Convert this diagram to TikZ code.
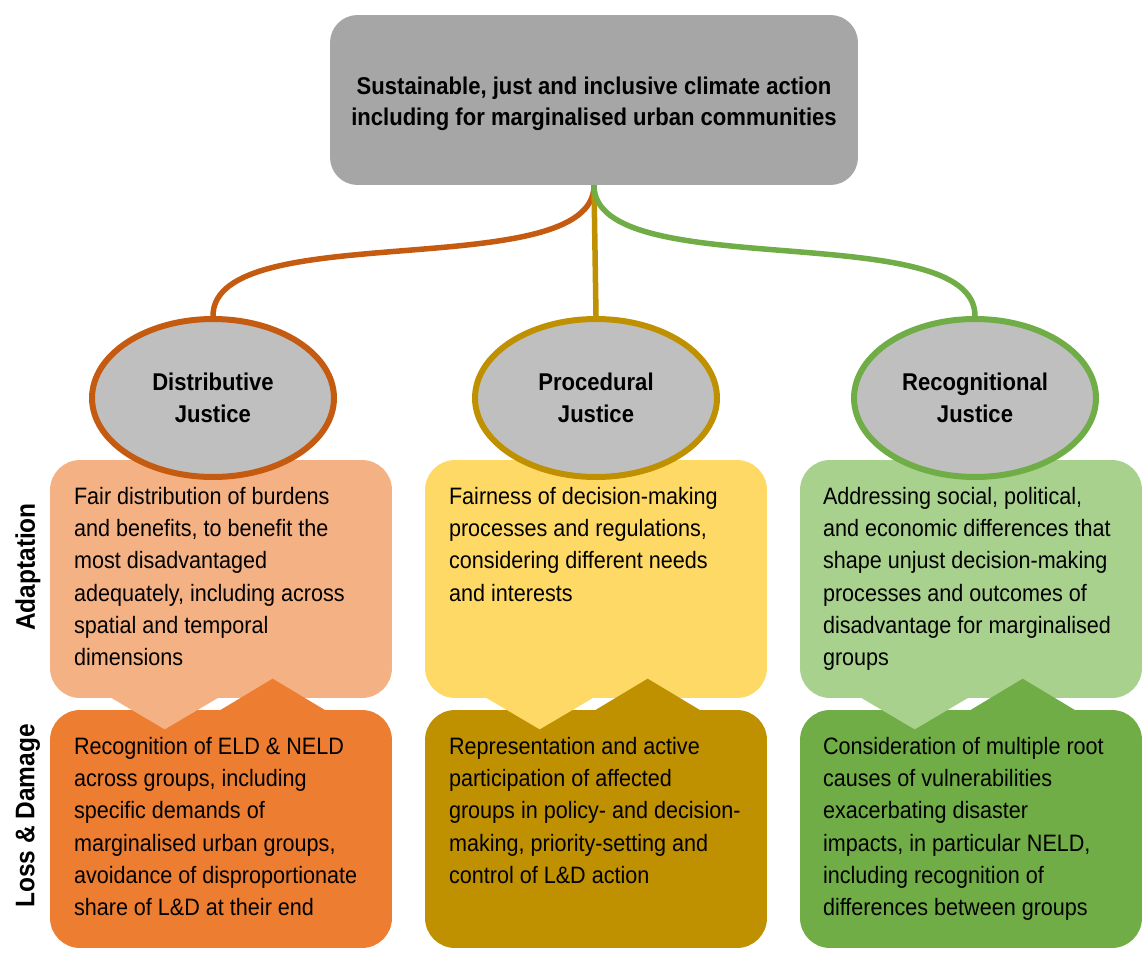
\documentclass[tikz,border=0pt]{standalone}
\usepackage{fontspec}
\setmainfont{Liberation Sans}[FakeStretch=0.91]
\usepackage{tikz}
\usetikzlibrary{positioning,shapes.geometric}
\definecolor{goalGray}{HTML}{A6A6A6}
\definecolor{ovalGray}{HTML}{BFBFBF}
\definecolor{distOrange}{HTML}{C55A11}
\definecolor{procGold}{HTML}{BF9000}
\definecolor{recGreen}{HTML}{70AD47}
\definecolor{adaOrange}{HTML}{F4B183}
\definecolor{adaYellow}{HTML}{FFD966}
\definecolor{adaGreen}{HTML}{A9D18E}
\definecolor{ldOrange}{HTML}{ED7D31}
\definecolor{ldGold}{HTML}{BF9000}
\definecolor{ldGreen}{HTML}{70AD47}

\tikzset{
  goal/.style={rectangle, rounded corners=0.55cm, fill=goalGray,
    minimum width=10.56cm, minimum height=3.4cm},
  goaltext/.style={align=center, inner sep=0pt,
    font=\bfseries\fontsize{13.8}{17.6}\selectfont},
  pillar/.style={ellipse, draw=#1, line width=0.12cm, fill=ovalGray,
    minimum width=4.84cm, minimum height=3.16cm, inner sep=0pt, align=center,
    font=\bfseries\fontsize{13.8}{18}\selectfont},
  panel/.style={rectangle, rounded corners=0.6cm, fill=#1,
    minimum width=6.84cm, minimum height=4.76cm},
  blurb/.style={anchor=north west, align=left, inner sep=0pt,
    font=\fontsize{13.5}{18.4}\selectfont},
  tie/.style={draw=#1, line width=0.11cm},
  rowlabel/.style={rotate=90, font=\bfseries\fontsize{15.3}{18}\selectfont}
}

\begin{document}
\begin{tikzpicture}[x=0.02cm, y=-0.02cm]
  \useasboundingbox (0,0) rectangle (1145,956);
  % panels, adaptation row and loss & damage row
  \node[panel=adaOrange] (adaD) at (221,579) {};
  \node[panel=adaYellow] (adaP) at (596,579) {};
  \node[panel=adaGreen]  (adaR) at (971,579) {};
  \node[panel=ldOrange]  (ldD)  at (221,829) {};
  \node[panel=ldGold]    (ldP)  at (596,829) {};
  \node[panel=ldGreen]   (ldR)  at (971,829) {};
  % notches between the two rows
  \fill[ldOrange] ([shift={(168,2)}]ldD.north west) -- ([shift={(223,-31)}]ldD.north west) -- ([shift={(278,2)}]ldD.north west) -- cycle;
  \fill[ldGold]   ([shift={(168,2)}]ldP.north west) -- ([shift={(223,-31)}]ldP.north west) -- ([shift={(278,2)}]ldP.north west) -- cycle;
  \fill[ldGreen]  ([shift={(168,2)}]ldR.north west) -- ([shift={(223,-31)}]ldR.north west) -- ([shift={(278,2)}]ldR.north west) -- cycle;
  \fill[adaOrange] ([shift={(59,-2)}]adaD.south west) -- ([shift={(115,31)}]adaD.south west) -- ([shift={(171,-2)}]adaD.south west) -- cycle;
  \fill[adaYellow] ([shift={(59,-2)}]adaP.south west) -- ([shift={(115,31)}]adaP.south west) -- ([shift={(171,-2)}]adaP.south west) -- cycle;
  \fill[adaGreen]  ([shift={(59,-2)}]adaR.south west) -- ([shift={(115,31)}]adaR.south west) -- ([shift={(171,-2)}]adaR.south west) -- cycle;
  % goal and the three kinds of justice
  \node[goal] (goal) at (594,100) {};
  \node[goaltext] (goalText) at (594,104)
    {Sustainable, just and inclusive climate action\\including for marginalised urban communities};
  \node[pillar=distOrange] (distr) at (213,398) {Distributive\\Justice};
  \node[pillar=procGold]   (proc)  at (596,398) {Procedural\\Justice};
  \node[pillar=recGreen]   (recog) at (975,398) {Recognitional\\Justice};
  \draw[tie=distOrange] (goal.south) .. controls +(0,100) and +(0,-100) .. (distr.north);
  \draw[tie=procGold]   (goal.south) -- (proc.north);
  \draw[tie=recGreen]   (goal.south) .. controls +(0,100) and +(0,-100) .. (recog.north);
  % row labels
  \node[rowlabel] (adaLabel) at (28,567) {Adaptation};
  \node[rowlabel] (ldLabel)  at (28,816) {Loss \& Damage};
  % texts
  \node[blurb] (adaDtext) at ([shift={(24,27)}]adaD.north west)
    {Fair distribution of burdens\\and benefits, to benefit the\\most disadvantaged\\adequately, including across\\spatial and temporal\\dimensions};
  \node[blurb] (adaPtext) at ([shift={(24,27)}]adaP.north west)
    {Fairness of decision-making\\processes and regulations,\\considering different needs\\and interests};
  \node[blurb] (adaRtext) at ([shift={(23,27)}]adaR.north west)
    {Addressing social, political,\\and economic differences that\\shape unjust decision-making\\processes and outcomes of\\disadvantage for marginalised\\groups};
  \node[blurb] (ldDtext) at ([shift={(24,27)}]ldD.north west)
    {Recognition of ELD \& NELD\\across groups, including\\specific demands of\\marginalised urban groups,\\avoidance of disproportionate\\share of L\&D at their end};
  \node[blurb] (ldPtext) at ([shift={(24,27)}]ldP.north west)
    {Representation and active\\participation of affected\\groups in policy- and decision-\\making, priority-setting and\\control of L\&D action};
  \node[blurb] (ldRtext) at ([shift={(23,27)}]ldR.north west)
    {Consideration of multiple root\\causes of vulnerabilities\\exacerbating disaster\\impacts, in particular NELD,\\including recognition of\\differences between groups};
\end{tikzpicture}
\end{document}
